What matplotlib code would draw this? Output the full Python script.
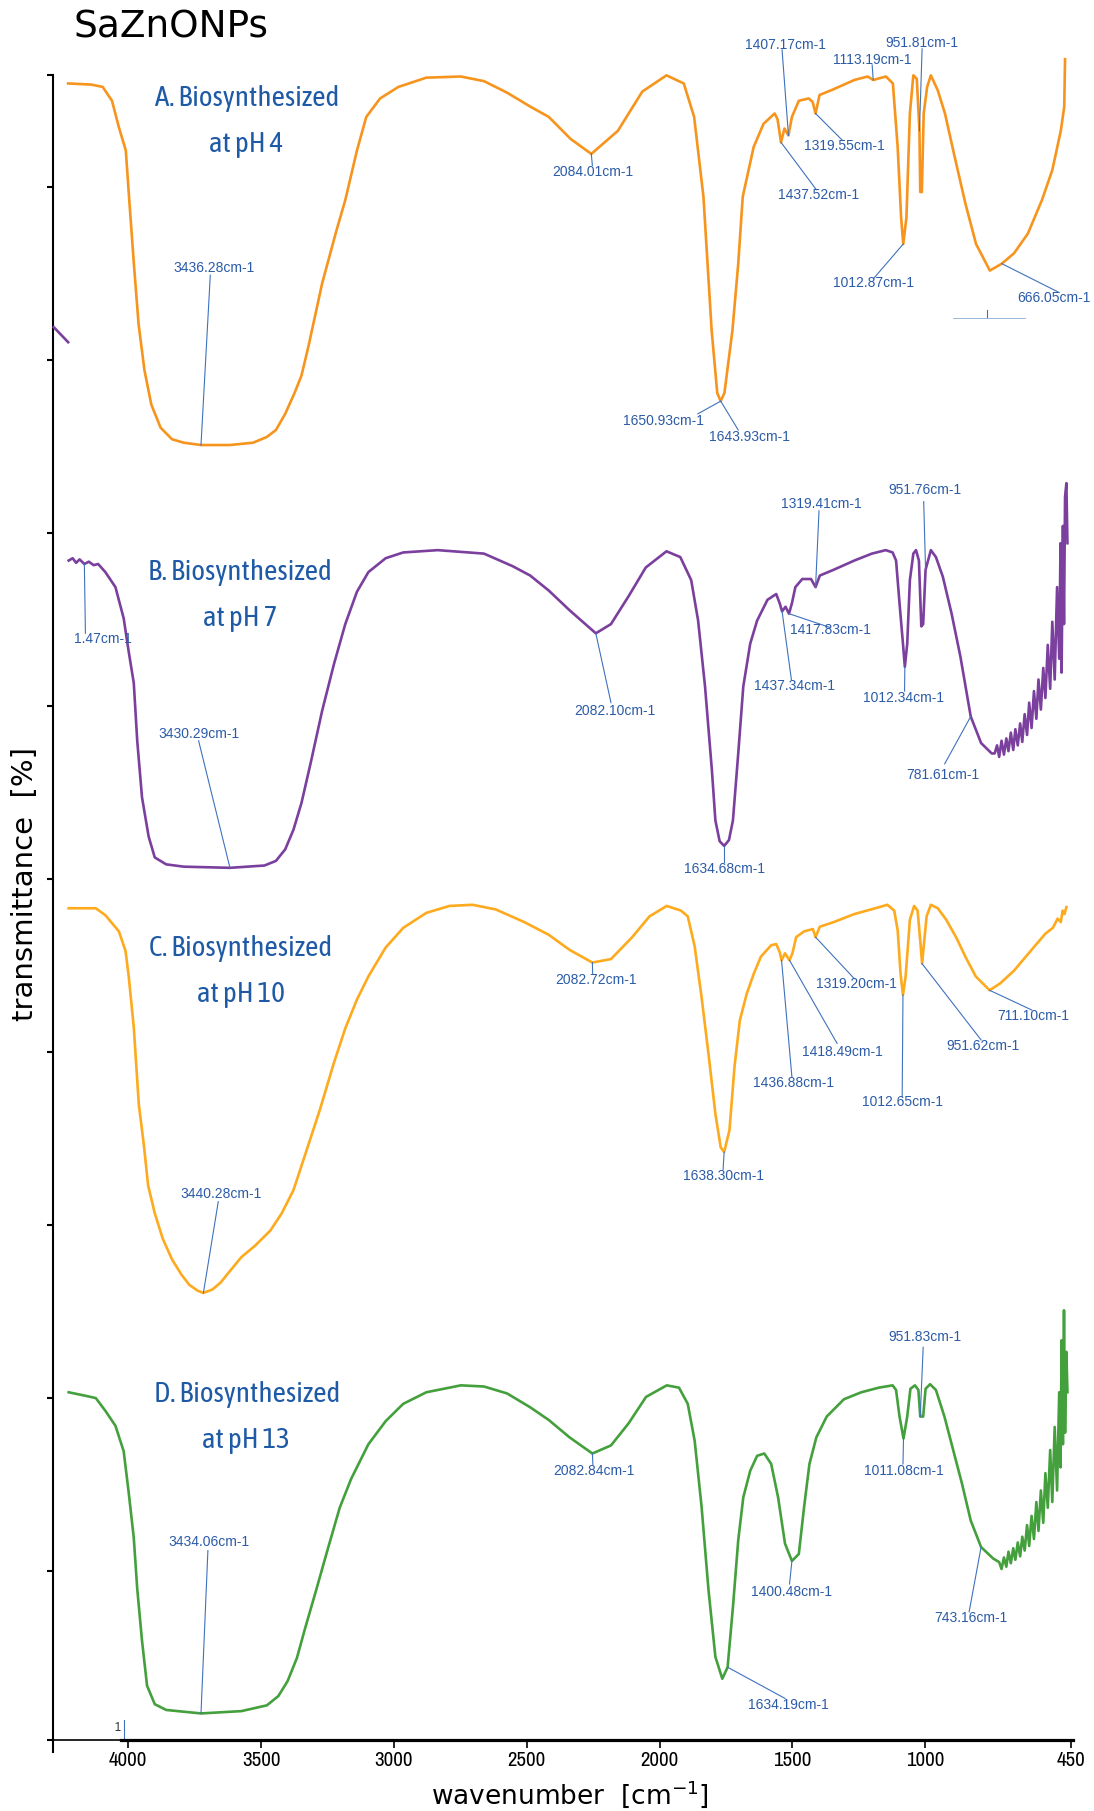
import numpy as np
import matplotlib
matplotlib.use('Agg')
import matplotlib.pyplot as plt
from matplotlib import font_manager

names = {f.name for f in font_manager.fontManager.ttflist}
TITLE_FONT = 'Asap Condensed' if 'Asap Condensed' in names else 'DejaVu Sans'
NARROW = 'Archivo Narrow' if 'Archivo Narrow' in names else 'Liberation Sans'

# ---------------- data (wavenumber cm-1, stacked transmittance, arbitrary units) ----------------
A_wn = [4226, 4139, 4096, 4061, 4035, 4009, 3996, 3978, 3961, 3939, 3913, 3878, 3835, 3791, 3726,
        3617, 3530, 3478, 3444, 3409, 3374, 3348, 3322, 3270, 3217, 3183, 3139, 3104, 3052, 2983,
        2878, 2748, 2661, 2574, 2487, 2417, 2335, 2257, 2157, 2065, 1974, 1909, 1870, 1835, 1804,
        1783, 1770, 1756, 1726, 1704, 1687, 1646, 1609, 1567, 1556, 1543, 1530, 1515, 1502, 1476,
        1439, 1424, 1413, 1398, 1345, 1267, 1217, 1196, 1148, 1122, 1104, 1091, 1083, 1071, 1058,
        1045, 1032, 1022, 1019, 1013, 1006, 993, 979, 953, 926, 889, 849, 809, 757, 712,
        666, 614, 561, 522, 490, 477, 474]
A_T = [1432, 1431, 1429, 1417, 1394, 1374, 1331, 1274, 1224, 1184, 1154, 1134, 1124, 1121, 1119,
       1119, 1121, 1126, 1132, 1146, 1164, 1179, 1204, 1259, 1304, 1331, 1374, 1403, 1419, 1429,
       1437, 1438, 1434, 1424, 1412, 1403, 1384, 1371, 1391, 1425, 1439, 1432, 1403, 1334, 1218,
       1164, 1157, 1164, 1218, 1276, 1334, 1377, 1397, 1406, 1401, 1381, 1393, 1387, 1403, 1417,
       1419, 1416, 1406, 1422, 1427, 1435, 1438, 1435, 1438, 1432, 1377, 1316, 1293, 1316, 1406,
       1439, 1436, 1391, 1338, 1338, 1406, 1429, 1439, 1426, 1406, 1368, 1328, 1293, 1270, 1276,
       1285, 1302, 1331, 1357, 1391, 1412, 1453]

B_wn = [4224, 4209, 4196, 4183, 4165, 4148, 4130, 4113, 4086, 4048, 4017, 3998, 3979, 3966, 3948,
        3923, 3900, 3857, 3791, 3617, 3487, 3444, 3409, 3378, 3348, 3313, 3270, 3226, 3183, 3139,
        3096, 3031, 2965, 2835, 2661, 2552, 2487, 2417, 2339, 2240, 2183, 2117, 2052, 1974, 1922,
        1881, 1855, 1829, 1803, 1790, 1774, 1757, 1739, 1724, 1704, 1685, 1659, 1633, 1594, 1561,
        1548, 1539, 1526, 1513, 1502, 1489, 1463, 1430, 1413, 1397, 1345, 1267, 1201, 1149, 1123,
        1110, 1097, 1084, 1077, 1068, 1058, 1045, 1035, 1024, 1019, 1015, 1008, 999, 979, 960,
        934, 901, 868, 829, 790, 750,
        739, 730, 722, 713, 704, 695, 687, 678, 669, 661, 652, 643, 635, 626, 617, 609, 600, 591,
        582, 574, 565, 556, 548, 539, 530, 522, 513, 504, 496, 491, 487, 482, 478, 474, 469, 465]
B_T = [1019, 1021, 1017, 1020, 1016, 1018, 1015, 1016, 1009, 996, 969, 940, 913, 863, 814,
       780, 762, 756, 754, 753, 755, 759, 769, 786, 809, 844, 889, 929, 964, 992,
       1009, 1021, 1026, 1028, 1025, 1014, 1006, 993, 976, 956, 964, 988, 1013, 1027, 1022,
       1002, 967, 910, 837, 794, 776, 772, 777, 794, 852, 910, 947, 967, 985, 990,
       982, 975, 979, 973, 982, 996, 1003, 1003, 996, 1006, 1011, 1019, 1025, 1028, 1026,
       1019, 982, 947, 927, 947, 1002, 1025, 1028, 1019, 988, 962, 964, 1011, 1028, 1022,
       1005, 973, 936, 884, 861, 852,
       852, 859, 849, 863, 851, 865, 854, 870, 855, 873, 859, 878, 862, 886, 868, 896, 874, 906,
       882, 916, 890, 926, 900, 946, 908, 966, 916, 996, 934, 1034, 922, 1049, 964, 1074, 1086, 1034]

# stray purple fragment at the far left of panel A
S_wn = [4280, 4226]
S_T = [1221, 1208]

C_wn = [4224, 4161, 4122, 4086, 4035, 4010, 3998, 3979, 3960, 3941, 3925, 3900, 3870, 3835, 3800,
        3770, 3739, 3717, 3683, 3652, 3617, 3574, 3522, 3465, 3422, 3378, 3335, 3278, 3226, 3183,
        3139, 3096, 3031, 2965, 2878, 2791, 2704, 2617, 2509, 2417, 2339, 2253, 2183, 2103, 2038,
        1973, 1920, 1894, 1868, 1842, 1816, 1790, 1770, 1757, 1737, 1718, 1698, 1672, 1646, 1619,
        1580, 1561, 1548, 1541, 1528, 1511, 1500, 1486, 1456, 1423, 1413, 1397, 1345, 1267, 1188,
        1143, 1117, 1104, 1093, 1084, 1074, 1058, 1042, 1029, 1019, 1012, 1006, 995, 979, 953,
        921, 882, 849, 810, 758, 718, 666, 600, 548, 520, 502, 490, 483, 476, 469]
C_T = [718, 718, 718, 712, 698, 681, 659, 615, 548, 513, 478, 454, 432, 414, 401,
       392, 387, 385, 388, 394, 404, 416, 426, 439, 454, 474, 504, 544, 584, 614,
       639, 659, 684, 701, 714, 720, 721, 717, 706, 695, 682, 671, 674, 693, 711,
       720, 716, 711, 685, 641, 592, 540, 511, 507, 526, 581, 621, 644, 661, 676,
       686, 687, 680, 673, 679, 673, 679, 693, 698, 700, 693, 702, 706, 713, 718,
       721, 716, 699, 661, 643, 659, 708, 720, 716, 690, 670, 685, 711, 721, 718,
       708, 692, 676, 659, 647, 653, 664, 682, 696, 701, 709, 706, 716, 713, 719]

D_wn = [4224, 4161, 4122, 4086, 4048, 4017, 3998, 3979, 3966, 3948, 3929, 3900, 3857, 3726, 3574,
        3478, 3435, 3400, 3365, 3335, 3291, 3248, 3204, 3161, 3096, 3031, 2965, 2878, 2748, 2661,
        2574, 2487, 2417, 2339, 2253, 2183, 2117, 2051, 1973, 1927, 1894, 1868, 1842, 1816, 1790,
        1764, 1744, 1724, 1704, 1685, 1659, 1633, 1606, 1580, 1554, 1528, 1502, 1476, 1456, 1436,
        1410, 1371, 1306, 1241, 1175, 1123, 1110, 1097, 1082, 1068, 1056, 1039, 1026, 1019, 1008,
        999, 982, 960, 928, 895, 862, 829, 790, 744,
        722, 713, 704, 695, 687, 678, 669, 661, 652, 643, 635, 626, 617, 609, 600, 591, 582, 574,
        565, 556, 548, 539, 530, 522, 513, 504, 496, 491, 487, 482, 478, 474, 469, 465]
D_T = [299, 296, 294, 283, 270, 248, 212, 173, 129, 84, 45, 29, 24, 21, 23,
       28, 36, 49, 69, 94, 129, 164, 199, 224, 254, 274, 289, 299, 305, 304,
       298, 286, 275, 260, 246, 253, 272, 295, 305, 303, 289, 257, 200, 128, 70,
       51, 61, 113, 171, 208, 231, 244, 246, 237, 208, 168, 153, 159, 200, 237,
       260, 278, 293, 299, 303, 305, 301, 278, 259, 278, 302, 305, 301, 278, 278,
       302, 306, 301, 278, 249, 220, 188, 165, 155,
       152, 146, 156, 148, 161, 151, 164, 154, 169, 157, 174, 162, 184, 166, 192, 172, 204, 179,
       214, 186, 229, 199, 249, 204, 269, 214, 299, 234, 344, 254, 370, 264, 334, 299]

x_ticks = [4000, 3500, 3000, 2500, 2000, 1500, 1000, 450]
x_tick_labels = ['4000', '3500', '3000', '2500', '2000', '1500', '1000', '450']

# peak labels: (text, peak wavenumber on curve, leader end wn, leader end T, label wn, label T, ha)
A_peaks = [
    ('3436.28cm-1', 3726, 3691, 1266, 3678, 1272, 'center'),
    ('2084.01cm-1', 2257, 2253, 1361, 2250, 1355, 'center'),
    ('1650.93cm-1', 1770, 1856, 1146, 1987, 1140, 'center'),
    ('1643.93cm-1', 1770, 1704, 1132, 1661, 1126, 'center'),
    ('1407.17cm-1', 1515, 1539, 1461, 1528, 1465, 'center'),
    ('1437.52cm-1', 1543, 1410, 1340, 1400, 1335, 'center'),
    ('1319.55cm-1', 1413, 1313, 1383, 1306, 1378, 'center'),
    ('1113.19cm-1', 1196, 1200, 1448, 1201, 1452, 'center'),
    ('951.81cm-1', 1022, 1012, 1462, 1012, 1467, 'center'),
    ('1012.87cm-1', 1083, 1195, 1263, 1195, 1259, 'center'),
    ('666.05cm-1', 712, 496, 1251, 378, 1246, 'right'),
]
B_peaks = [
    ('1.47cm-1', 4165, 4161, 956, 4205, 951, 'left'),
    ('3430.29cm-1', 3617, 3735, 863, 3735, 869, 'center'),
    ('2082.10cm-1', 2240, 2183, 896, 2170, 889, 'center'),
    ('1634.68cm-1', 1757, 1757, 758, 1757, 752, 'center'),
    ('1437.34cm-1', 1539, 1504, 916, 1491, 910, 'center'),
    ('1417.83cm-1', 1513, 1358, 961, 1356, 959, 'center'),
    ('1319.41cm-1', 1413, 1400, 1062, 1391, 1068, 'center'),
    ('951.76cm-1', 999, 1006, 1070, 1000, 1080, 'center'),
    ('1012.34cm-1', 1077, 1078, 906, 1081, 900, 'center'),
    ('781.61cm-1', 829, 927, 843, 933, 833, 'center'),
]
C_peaks = [
    ('3440.28cm-1', 3717, 3661, 464, 3652, 471, 'center'),
    ('2082.72cm-1', 2253, 2252, 661, 2239, 656, 'center'),
    ('1638.30cm-1', 1757, 1761, 492, 1761, 486, 'center'),
    ('1436.88cm-1', 1541, 1502, 572, 1496, 567, 'center'),
    ('1418.49cm-1', 1511, 1332, 601, 1313, 594, 'center'),
    ('1319.20cm-1', 1413, 1267, 657, 1261, 652, 'center'),
    ('1012.65cm-1', 1084, 1087, 555, 1084, 550, 'center'),
    ('951.62cm-1', 1012, 790, 604, 783, 599, 'center'),
    ('711.10cm-1', 758, 600, 630, 594, 625, 'center'),
]
D_peaks = [
    ('3434.06cm-1', 3726, 3700, 162, 3696, 169, 'center'),
    ('2082.84cm-1', 2253, 2251, 236, 2247, 231, 'center'),
    ('1634.19cm-1', 1744, 1528, 34, 1515, 28, 'center'),
    ('1400.48cm-1', 1502, 1511, 133, 1502, 126, 'center'),
    ('1011.08cm-1', 1082, 1084, 237, 1082, 231, 'center'),
    ('951.83cm-1', 1019, 1008, 338, 1002, 347, 'center'),
    ('743.16cm-1', 790, 835, 109, 829, 104, 'center'),
]

panel_titles = [('A. Biosynthesized', 'at pH 4'), ('B. Biosynthesized', 'at pH 7'),
                ('C. Biosynthesized', 'at pH 10'), ('D. Biosynthesized', 'at pH 13')]
title_wn = [(3554, 3556), (3578, 3578), (3576, 3574), (3552, 3556)]
title_T = [(1419, 1379), (1009, 969), (683, 643), (297, 257)]

colors = ['#F7941D', '#7B3F9E', '#FDAA1E', '#44A03C']

# ---------------- figure ----------------
W, H = 1094, 1811
fig = plt.figure(figsize=(W / 100, H / 100), dpi=100)
xl, xr = 4283, 445
yb, yt = -12, 1439
px_per_T = 1.1552
px_per_wn = 0.2657
left_px = 53
ax_w = (xl - xr) * px_per_wn
axis_px = 1740
bottom_px = axis_px + 10 * px_per_T
ax_h = (yt - yb) * px_per_T
ax = fig.add_axes([left_px / W, 1 - bottom_px / H, ax_w / W, ax_h / H])
ax.set_xlim(xl, xr)
ax.set_ylim(yb, yt)

for wn, T, c in [(A_wn, A_T, colors[0]), (B_wn, B_T, colors[1]), (C_wn, C_T, colors[2]),
                 (D_wn, D_T, colors[3]), (S_wn, S_T, colors[1])]:
    ax.plot(wn, T, color=c, lw=1.9, solid_joinstyle='round', clip_on=False, zorder=3)

ann_text = '#2B5BA8'
ann_line = '#3F72BD'
for peaks, wn, T in [(A_peaks, A_wn, A_T), (B_peaks, B_wn, B_T), (C_peaks, C_wn, C_T), (D_peaks, D_wn, D_T)]:
    wn_a = np.asarray(wn)
    for txt, pk, lx, ly, tx, ty, ha in peaks:
        i = int(np.argmin(np.abs(wn_a - pk)))
        ax.plot([wn[i], lx], [T[i], ly], color=ann_line, lw=0.8, zorder=4, clip_on=False)
        ax.text(tx, ty, txt, color=ann_text, fontsize=10, family='Liberation Sans',
                ha=ha, va='center', zorder=5, clip_on=False)

# cut-off label remnant under panel A
ax.plot([768, 768], [1230, 1236], color=ann_line, lw=0.8, clip_on=False)
ax.plot([896, 626], [1229, 1229], color=ann_line, lw=0.6, alpha=0.6, clip_on=False)

title_color = '#1F5AA6'
for (l1, l2), (w1, w2), (t1, t2) in zip(panel_titles, title_wn, title_T):
    ax.text(w1, t1, l1, color=title_color, fontsize=21, family=TITLE_FONT, ha='center', va='center')
    ax.text(w2, t2, l2, color=title_color, fontsize=21, family=TITLE_FONT, ha='center', va='center')

# axes styling
for s in ['top', 'right']:
    ax.spines[s].set_visible(False)
ax.spines['left'].set_linewidth(1.5)
ax.spines['bottom'].set_position(('data', -2))
ax.spines['bottom'].set_bounds(4028, xr)
ax.spines['bottom'].set_linewidth(2.3)
ax.plot([xl, 4028], [-2, -2], color='black', lw=1.2, clip_on=False)
ax.text(4040, 9, '1', fontsize=9, color='#333333', ha='center', va='center', family=NARROW)
ax.plot([4014, 4014], [-2, 15], color='#3F72BD', lw=0.8, clip_on=False)

ax.set_xticks(x_ticks)
ax.set_xticklabels(x_tick_labels, family=NARROW, fontsize=15)
ax.tick_params(axis='x', direction='out', length=6, width=1.2, pad=2)
y_ticks = [-2] + list(np.arange(144, 1400, 149.76)) + [yt]
ax.set_yticks(y_ticks)
ax.set_yticklabels([])
ax.tick_params(axis='y', direction='out', length=4.5, width=1.5)

fig.text(73 / W, 1 - 37 / H, 'SaZnONPs', fontsize=27, family='DejaVu Sans', ha='left', va='baseline')
fig.text(25 / W, 1 - 884 / H, 'transmittance  [%]', fontsize=21, family='DejaVu Sans',
         rotation=90, ha='center', va='center')
fig.text(570 / W, 1 - 1794 / H, 'wavenumber  [cm$^{-1}$]', fontsize=19, family='DejaVu Sans',
         ha='center', va='center')

fig.savefig('out.png', dpi=100)
